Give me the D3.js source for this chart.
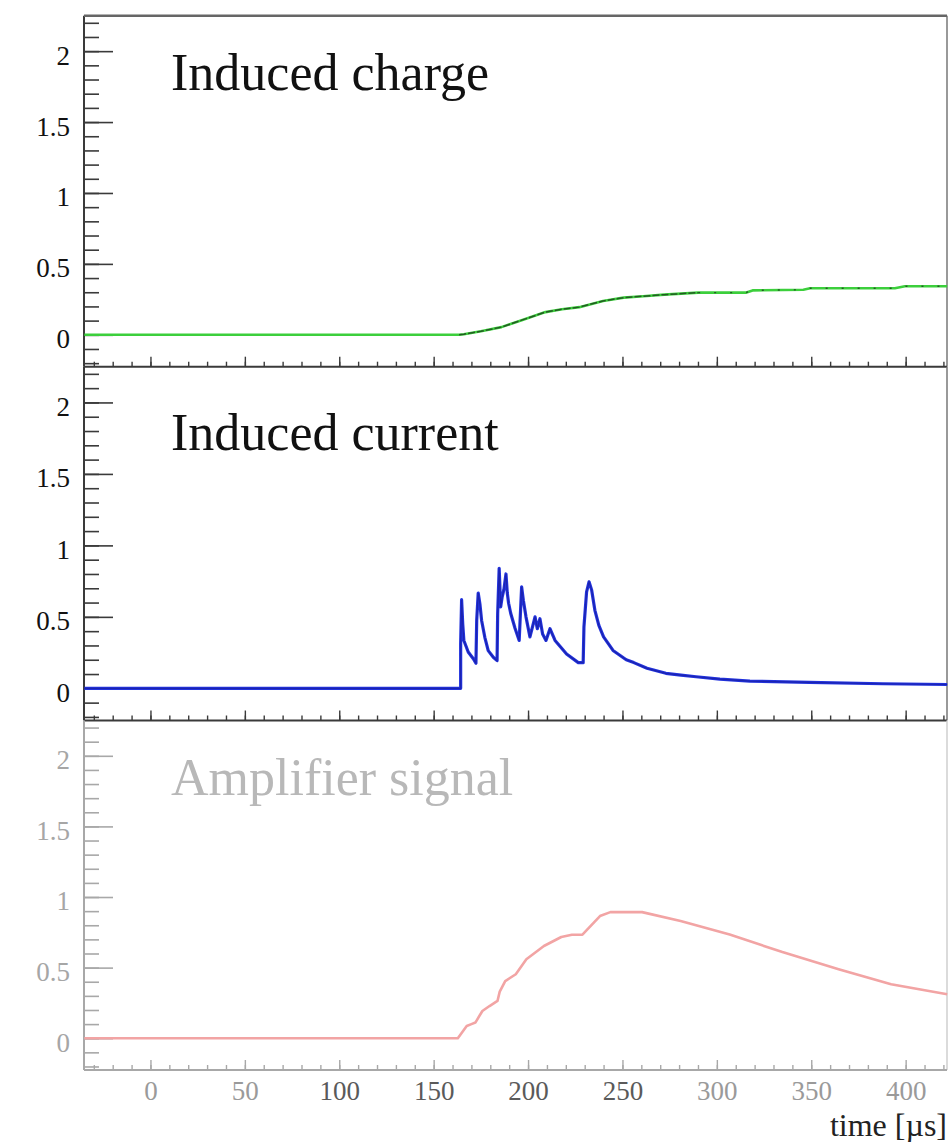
<!DOCTYPE html>
<html>
<head>
<meta charset="utf-8">
<script src="https://cdn.jsdelivr.net/npm/d3@7"></script>
<style>
  html, body { margin: 0; padding: 0; background: #fff; }
  svg { display: block; font-family: "Liberation Serif", "Times New Roman", serif; }
</style>
</head>
<body>
<svg id="chart" width="952" height="1142"></svg>
<script>
// values
const titles = ["Induced charge", "Induced current", "Amplifier signal"]
const xTicks = [0, 50, 100, 150, 200, 250, 300, 350, 400]
const yTicks = [0, 0.5, 1, 1.5, 2]
const yTickLabels = ["0", "0.5", "1", "1.5", "2"]
const xLabel = "time [\u00b5s]"

const chargeTime = [-35, 163.5, 166, 175, 185.9, 197, 209.2, 218, 227.2, 239.7, 250.6, 261, 272.1, 290.1, 315.3, 318.9, 345.8, 349.4, 394.3, 399.6, 422]
const chargeVal  = [0, 0, 0.004, 0.025, 0.054, 0.105, 0.16, 0.18, 0.195, 0.238, 0.262, 0.272, 0.283, 0.297, 0.297, 0.313, 0.318, 0.328, 0.328, 0.342, 0.342]

const currentTime = [-35, 164.3, 164.3, 164.8, 165.4, 166.0, 168.3, 171.0, 172.4, 172.8, 173.6, 174.5, 175.4, 177.1, 178.9, 181.6, 183.6, 183.9, 184.7, 185.5, 186.3, 187.2, 188.3, 189.0, 189.7, 190.8, 193.1, 195.3, 196.6, 197.5, 198.9, 201.0, 203.7, 204.9, 206.3, 207.7, 209.5, 211.6, 214.3, 220.4, 226.6, 229.2, 229.6, 231.0, 232.3, 233.7, 235.4, 237.5, 240, 245, 252, 256, 263, 273, 281, 289, 301.6, 317.5, 349, 388, 422]
const currentVal  = [0, 0, 0.31, 0.62, 0.45, 0.335, 0.254, 0.207, 0.176, 0.475, 0.667, 0.59, 0.475, 0.357, 0.264, 0.217, 0.194, 0.52, 0.84, 0.57, 0.64, 0.69, 0.8, 0.667, 0.595, 0.525, 0.42, 0.335, 0.71, 0.616, 0.5, 0.36, 0.5, 0.417, 0.487, 0.38, 0.335, 0.417, 0.335, 0.24, 0.18, 0.18, 0.43, 0.675, 0.745, 0.687, 0.546, 0.44, 0.36, 0.265, 0.2, 0.18, 0.14, 0.105, 0.092, 0.081, 0.065, 0.05, 0.042, 0.032, 0.027]

const ampTime = [-35, 162.8, 167.5, 170, 172.1, 175.8, 179.6, 183.8, 185, 187.9, 193.5, 199.1, 208.4, 217.6, 223.2, 228.8, 238.1, 243.6, 260.4, 280.8, 306.8, 334.7, 364.5, 392.3, 422]
const ampVal  = [0, 0, 0.087, 0.1, 0.111, 0.193, 0.228, 0.264, 0.33, 0.405, 0.453, 0.559, 0.653, 0.717, 0.733, 0.733, 0.865, 0.893, 0.893, 0.83, 0.735, 0.61, 0.488, 0.382, 0.311]

const svg = d3.select("#chart")
const left = 84, right = 947
const font = "Liberation Serif"

const x = d3.scaleLinear().domain([-35.2, 421.9]).range([left, right])
const xMinor = d3.range(-30, 421, 10)
const yMinor = d3.range(-0.2, 2.25, 0.1).map(v => +v.toFixed(1))

const panels = [
  {top: 15.7, bottom: 366.7, title: titles[0], titleY: 90, t: chargeTime, v: chargeVal,
   line: "#3ccf3c", axis: "#3a3a3a", text: "#111", labels: false},
  {top: 366.7, bottom: 720.5, title: titles[1], titleY: 450, t: currentTime, v: currentVal,
   line: "#2233dd", axis: "#3a3a3a", text: "#111", labels: false},
  {top: 720.5, bottom: 1070, title: titles[2], titleY: 795, t: ampTime, v: ampVal,
   line: "#f2a4a4", axis: "#a8a8a8", text: "#a6a6a6", labels: true}
]

panels.forEach((p, i) => {
  const y = d3.scaleLinear().domain([-0.225, 2.25]).range([p.bottom, p.top])
  const g = svg.append("g")

  // frame
  g.append("line").attr("x1", left).attr("x2", left).attr("y1", p.top).attr("y2", p.bottom)
    .attr("stroke", p.axis).attr("stroke-width", 2)
  g.append("line").attr("x1", right).attr("x2", right).attr("y1", p.top).attr("y2", p.bottom)
    .attr("stroke", i == 2 ? "#cfcfcf" : "#777").attr("stroke-width", 1.5)
  g.append("line").attr("x1", left).attr("x2", right).attr("y1", p.bottom).attr("y2", p.bottom)
    .attr("stroke", p.axis).attr("stroke-width", 2)
  if (i == 0) {
    g.append("line").attr("x1", left).attr("x2", right).attr("y1", p.top).attr("y2", p.top)
      .attr("stroke", "#666").attr("stroke-width", 2.5)
  }

  // y axis, ticks pointing inwards
  const ya = g.append("g").attr("transform", `translate(${left},0)`)
    .call(d3.axisLeft(y).tickValues(yTicks).tickFormat((d, k) => yTickLabels[k])
      .tickSize(-29).tickPadding(14))
  ya.attr("font-family", null)
  ya.select(".domain").remove()
  ya.selectAll("line").attr("stroke", p.axis).attr("stroke-width", 1.6)
  ya.selectAll("text").attr("fill", p.text).attr("font-size", 27).attr("dy", "0.48em")
    .attr("font-family", font)

  const ym = g.append("g").attr("transform", `translate(${left},0)`)
    .call(d3.axisLeft(y).tickValues(yMinor).tickFormat("").tickSize(-15))
  ym.select(".domain").remove()
  ym.selectAll("line").attr("stroke", p.axis).attr("stroke-width", 1.6)

  // x axis
  const xa = g.append("g").attr("transform", `translate(0,${p.bottom})`)
    .call(d3.axisBottom(x).tickValues(xTicks).tickFormat(p.labels ? d3.format("d") : "")
      .tickSize(-10).tickPadding(11))
  xa.attr("font-family", null)
  xa.select(".domain").remove()
  xa.selectAll("line").attr("stroke", p.axis).attr("stroke-width", 1.4)
  xa.selectAll("text").attr("font-size", 27).attr("font-family", font)
    .attr("fill", d => (d >= 100 && d <= 250) ? "#5a5a5a" : "#9a9a9a")

  const xm = g.append("g").attr("transform", `translate(0,${p.bottom})`)
    .call(d3.axisBottom(x).tickValues(xMinor).tickFormat("").tickSize(-5))
  xm.select(".domain").remove()
  xm.selectAll("line").attr("stroke", p.axis).attr("stroke-width", 1.4)

  // curve on top of the axes
  const pts = p.t.map((t, k) => [t, p.v[k]])
  const line = d3.line().x(d => x(d[0])).y(d => y(d[1]))

  g.append("path").datum(pts)
    .attr("fill", "none").attr("stroke", p.line)
    .attr("stroke-width", i == 1 ? 3.2 : 2.6)
    .attr("stroke-linejoin", "round")
    .attr("d", line)

  if (i == 0) {
    // dark points drawn over the green curve
    g.append("path").datum(pts.filter(d => d[0] >= 0 && d[0] <= 300))
      .attr("fill", "none").attr("stroke", "#1d3d1d").attr("stroke-width", 1.5)
      .attr("stroke-dasharray", "7,2").attr("opacity", 0.8)
      .attr("d", line)
    g.append("path").datum(pts.filter(d => d[0] >= 290))
      .attr("fill", "none").attr("stroke", "#1d3d1d").attr("stroke-width", 1.4)
      .attr("stroke-dasharray", "2,14").attr("opacity", 0.8)
      .attr("d", line)
  }
  if (i == 1) {
    g.append("path").datum(pts)
      .attr("fill", "none").attr("stroke", "#16168a").attr("stroke-width", 1.2)
      .attr("opacity", 0.55).attr("d", line)
  }

  g.append("text").attr("x", 171).attr("y", p.titleY)
    .attr("font-family", font)
    .attr("font-size", 52).attr("fill", i == 2 ? "#b8b8b8" : "#111")
    .text(p.title)
})

svg.append("text").attr("x", right).attr("y", 1136)
  .attr("font-family", font)
  .attr("text-anchor", "end").attr("font-size", 32).attr("fill", "#222")
  .text(xLabel)
</script>
</body>
</html>
